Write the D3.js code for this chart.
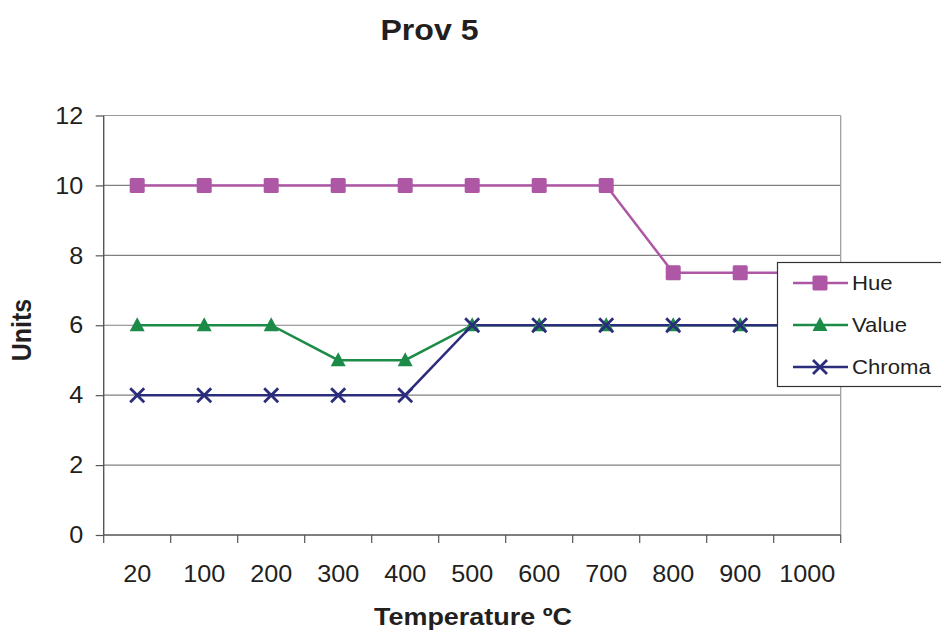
<!DOCTYPE html>
<html><head><meta charset="utf-8">
<script src="https://cdn.jsdelivr.net/npm/d3@7"></script>
<style>body{margin:0;background:#fff}svg{display:block;font-family:"Liberation Sans",Arial,sans-serif}</style>
</head><body><svg id="c" width="941" height="633"></svg>
<script>
const categories = ["20","100","200","300","400","500","600","700","800","900","1000"];
const hue    = [10,10,10,10,10,10,10,10,7.5,7.5,7.5];
const value  = [6,6,6,5,5,6,6,6,6,6,6];
const chroma = [4,4,4,4,4,6,6,6,6,6,6];
const yTicks = [0,2,4,6,8,10,12];
const seriesNames = ["Hue","Value","Chroma"];
const colors = ["#AD57A5","#1C8B47","#2C2C7C"];

const svg = d3.select("#c");
const L = 103.7, R = 840.7, T = 115.5, B = 535;
const x = d3.scaleBand().domain(categories).range([L,R]);
const y = d3.scaleLinear().domain([0,12]).range([B,T]);

// gridlines
svg.append("g").selectAll("line").data(yTicks.filter(d=>d>0)).join("line")
  .attr("x1",L).attr("x2",R).attr("y1",d=>y(d)).attr("y2",d=>y(d))
  .attr("stroke",d=>d===12?"#999":"#808080").attr("stroke-width",1.2);
svg.append("line").attr("x1",R).attr("x2",R).attr("y1",T).attr("y2",B).attr("stroke","#999").attr("stroke-width",1.2);

// x axis
const xAxis = svg.append("g").attr("transform",`translate(0,${B})`)
  .call(d3.axisBottom(x).tickSize(0).tickPadding(0));
xAxis.select(".domain").remove();
xAxis.selectAll("text").attr("y",0).attr("dy",0).attr("transform","translate(0,47) scale(1.05,1)")
  .attr("font-size",24).attr("fill","#231f20").attr("font-family","Liberation Sans, Arial, sans-serif");
const bounds = categories.map(c=>x(c)).concat([R]);
svg.append("g").selectAll("line").data(bounds).join("line")
  .attr("x1",d=>d).attr("x2",d=>d).attr("y1",B).attr("y2",B+8)
  .attr("stroke","#555").attr("stroke-width",1.2);
svg.append("line").attr("x1",L).attr("x2",R).attr("y1",B).attr("y2",B).attr("stroke","#555").attr("stroke-width",1.4);

// y axis
const yAxis = svg.append("g").attr("transform",`translate(${L},0)`)
  .call(d3.axisLeft(y).tickValues(yTicks).tickSize(8).tickPadding(13));
yAxis.select(".domain").remove();
yAxis.selectAll(".tick line").attr("stroke","#555").attr("stroke-width",1.2);
yAxis.selectAll("text").attr("x",0).attr("transform","translate(-20.5,0) scale(1.05,1)")
  .attr("font-size",24).attr("fill","#231f20").attr("font-family","Liberation Sans, Arial, sans-serif");
svg.append("line").attr("x1",L).attr("x2",L).attr("y1",T).attr("y2",B).attr("stroke","#555").attr("stroke-width",1.4);

// series
const data = [hue,value,chroma];
const cx = c => x(c)+x.bandwidth()/2;
const line = d3.line().x((d,i)=>cx(categories[i])).y(d=>y(d));
function marker(g, k, color){
  if(k===0){
    g.append("rect").attr("x",-7.5).attr("y",-7.5).attr("width",15).attr("height",15).attr("rx",1.5).attr("fill",color);
  } else if(k===1){
    g.append("path").attr("d","M0,-8L7.5,6L-7.5,6Z").attr("fill",color);
  } else {
    g.append("path").attr("d","M-7,-7L7,7M-7,7L7,-7").attr("stroke",color).attr("stroke-width",2.8).attr("fill","none");
  }
}
data.forEach((vals,k)=>{
  svg.append("path").datum(vals).attr("d",line).attr("fill","none").attr("stroke",colors[k]).attr("stroke-width",2.5);
});
data.forEach((vals,k)=>{
  vals.forEach((v,i)=>{
    const g = svg.append("g").attr("transform",`translate(${cx(categories[i])},${y(v)})`);
    marker(g,k,colors[k]);
  });
});

// legend
const lg = svg.append("g");
lg.append("rect").attr("x",777.5).attr("y",262.5).attr("width",175).attr("height",124).attr("fill","#fff").attr("stroke","#333").attr("stroke-width",1.2);
const ly = [283,325,367];
seriesNames.forEach((n,k)=>{
  lg.append("line").attr("x1",793).attr("x2",848).attr("y1",ly[k]).attr("y2",ly[k]).attr("stroke",colors[k]).attr("stroke-width",2.5);
  const g = lg.append("g").attr("transform",`translate(820,${ly[k]})`);
  marker(g,k,colors[k]);
  lg.append("text").attr("transform",`translate(852,${ly[k]}) scale(1.08,1)`).attr("dy","0.36em").attr("font-size",20.5).attr("fill","#231f20").text(n);
});

// titles
svg.append("text").attr("transform","translate(429.5,39.5) scale(1.07,1)").attr("text-anchor","middle").attr("font-size",30).attr("font-weight","bold").attr("fill","#231f20").text("Prov 5");
svg.append("text").attr("transform","translate(473,625) scale(1.1,1)").attr("text-anchor","middle").attr("font-size",24.5).attr("font-weight","bold").attr("fill","#231f20").text("Temperature ºC");
svg.append("text").attr("transform","translate(31,330) rotate(-90) scale(1,1.08)").attr("text-anchor","middle").attr("font-size",25).attr("font-weight","bold").attr("fill","#231f20").text("Units");
</script></body></html>
